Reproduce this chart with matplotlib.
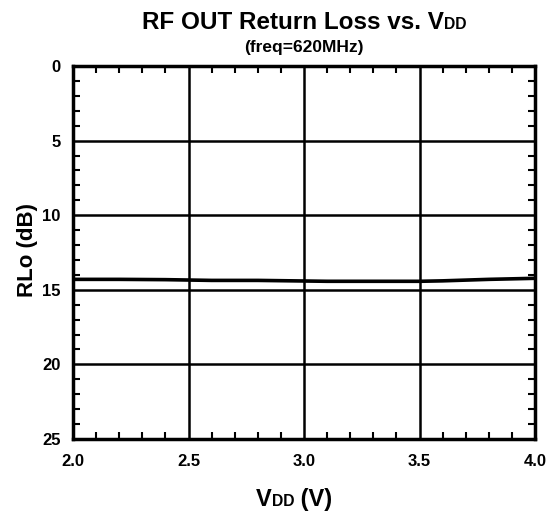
import matplotlib.pyplot as plt
from matplotlib.ticker import MultipleLocator

plt.rcParams['font.family'] = ['Liberation Sans', 'DejaVu Sans']
plt.rcParams['font.weight'] = 'bold'

vdd = [2.0, 2.2, 2.4, 2.6, 2.8, 2.95, 3.1, 3.3, 3.5, 3.6, 3.8, 4.0]
rlo = [14.3, 14.3, 14.32, 14.37, 14.37, 14.4, 14.43, 14.43, 14.43, 14.4, 14.3, 14.23]

fig = plt.figure(figsize=(5.55, 5.11), dpi=100)
ax = fig.add_axes([73/555, 1 - 439/511, 462/555, 373/511])

ax.plot(vdd, rlo, color='black', lw=2.6, zorder=3)

ax.set_xlim(2.0, 4.0)
ax.set_ylim(25, 0)
ax.xaxis.set_major_locator(MultipleLocator(0.5))
ax.xaxis.set_minor_locator(MultipleLocator(0.1))
ax.yaxis.set_major_locator(MultipleLocator(5))
ax.yaxis.set_minor_locator(MultipleLocator(1))
ax.set_xticks([2.0, 2.5, 3.0, 3.5, 4.0])
ax.set_xticklabels(['2.0', '2.5', '3.0', '3.5', '4.0'])
ax.grid(True, which='major', color='black', lw=1.8)
ax.tick_params(which='both', direction='in', top=True, right=True,
               labelsize=12)
ax.tick_params(axis='x', pad=11)
ax.tick_params(axis='y', pad=9)
ax.tick_params(which='major', length=0)
ax.tick_params(which='minor', length=5, width=1.5)
for s in ax.spines.values():
    s.set_linewidth(2.5)
for lab in ax.get_xticklabels() + ax.get_yticklabels():
    lab.set_fontweight('bold')

fig.canvas.draw()
r = fig.canvas.get_renderer()


def rich(parts, xc, y, size):
    # lay out (text, scale) pieces on one baseline, centred at xc (pixels)
    objs = []
    for s, k in parts:
        t = fig.text(0, 1 - y/511, s, fontsize=size*k, fontweight='bold',
                     va='baseline', ha='left')
        objs.append(t)
    widths = [t.get_window_extent(r).width for t in objs]
    x = xc - sum(widths)/2
    for t, w in zip(objs, widths):
        t.set_x(x/555)
        x += w


rich([('RF OUT Return Loss vs. V', 1.0), ('DD', 0.65)], 304, 29, 17.5)
rich([('(freq=620MHz)', 1.0)], 304, 52, 12.5)
rich([('V', 1.0), ('DD', 0.66), (' (V)', 1.0)], 294, 506, 17)

fig.text(27/555, 1 - 250/511, 'RLo (dB)', fontsize=16, fontweight='bold',
         rotation=90, ha='center', va='center')

fig.savefig('out.png', dpi=100)
